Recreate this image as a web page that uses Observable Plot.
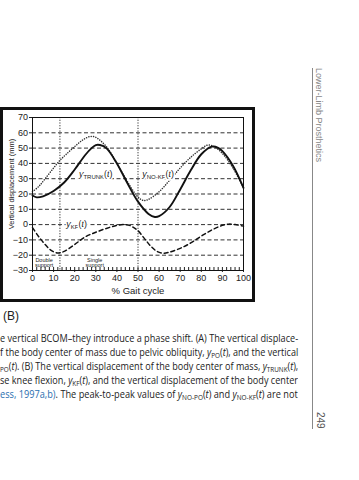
<!DOCTYPE html>
<html><head><meta charset="utf-8">
<script src="https://cdn.jsdelivr.net/npm/d3@7"></script>
<script src="https://cdn.jsdelivr.net/npm/@observablehq/plot@0.6"></script>
<style>
html,body{margin:0;padding:0;background:#fff;width:359px;height:480px;overflow:hidden;position:relative;font-family:"Liberation Sans",Arial,sans-serif;}
#chart{position:absolute;left:0;top:107px;}
#frame{position:absolute;left:0;top:107px;width:255px;height:195px;border:3px solid #111;box-sizing:border-box;pointer-events:none;}
#panel{position:absolute;left:3px;top:309px;font-size:12px;color:#222;}
.cap{position:absolute;left:0;white-space:nowrap;font-size:10px;line-height:14px;color:#222;transform-origin:0 50%;font-family:"Open Sans","Liberation Sans",sans-serif;}
.cap sub{font-size:7px;vertical-align:-2px;line-height:0;}
.blue{color:#2a6fb0;}
#vline{position:absolute;left:312px;top:68px;width:1px;height:361px;background:#888;}
#runhead{position:absolute;left:314px;top:68px;writing-mode:vertical-rl;font-size:9px;color:#888;white-space:nowrap;}
#folio{position:absolute;left:315px;top:412px;writing-mode:vertical-rl;font-size:10px;color:#555;}
</style></head>
<body>
<div id="chart"></div>
<div id="frame"></div>
<div id="panel">(B)</div>
<div class="cap" style="top:331px">e vertical BCOM–they introduce a phase shift. (A) The vertical displace-</div>
<div class="cap" style="top:345px">f the body center of mass due to pelvic obliquity, <i>y</i><sub>PO</sub>(<i>t</i>), and the vertical</div>
<div class="cap" style="top:359px"><sub>PO</sub>(<i>t</i>). (B) The vertical displacement of the body center of mass, <i>y</i><sub>TRUNK</sub>(<i>t</i>),</div>
<div class="cap" style="top:373px">se knee flexion, <i>y</i><sub>KF</sub>(<i>t</i>), and the vertical displacement of the body center</div>
<div class="cap" style="top:387px"><span class="blue">ess, 1997a,b)</span>. The peak-to-peak values of <i>y</i><sub>NO-PO</sub>(<i>t</i>) and <i>y</i><sub>NO-KF</sub>(<i>t</i>) are not</div>
<div id="vline"></div>
<div id="runhead">Lower-Limb Prosthetics</div>
<div id="folio">249</div>
<script>
// ---- data ----
const trunkX = [0,2,5,10,15,20,25,28,30,32,35,40,45,50,55,58,60,65,70,75,80,85,88,90,95,100];
const trunkY = [19,17.8,18.5,22,27.5,36,45.5,50,52,52,50,40,27,15,7,5,5.5,11.5,23,35.5,46,51,50.2,48,38.5,24];

const noKfX = [0,3,6,10,13,16,20,24,27.5,30,35,40,45,50,52.7,55,60,65,70,75,80,83,86,90,95,100];
const noKfY = [21.5,25,30,37,42,46,51,55.5,57.6,57,51,40,28,18,15.7,16.5,21.5,29,37,44,49.5,52,51,46.5,37,24];

const kfX = [0,3,6,9,12,15,20,25,30,35,40,43,46,48,50,53,56,59,62,65,70,75,80,85,90,93,96,100];
const kfY = [-2,-8,-13,-17,-18.5,-17.5,-13,-8,-5,-2.5,-0.5,0,-0.5,-2,-4,-9,-14,-17.5,-18.7,-18,-15.5,-12,-7.5,-3.5,-0.5,0.3,0,-1];

const xTicks = [0,10,20,30,40,50,60,70,80,90,100];
const xMinorTicks = d3.range(0, 101, 2);
const yTicks = [70,60,50,40,30,20,10,0,-10,-20,-30];
const gridY = [60,50,40,30,20,10,0,-10,-20];
const phaseX = [13,50];
const phaseLabels = ["Double\nsupport","Single\nsupport"];
const phaseLabelX = [5.5,29.5];
const curveLabels = ["y|TRUNK", "y|NO-KF", "y|KF"];
const curveLabelX = [22, 52, 16];
const curveLabelY = [33, 33, 0];
const xLabel = "% Gait cycle";
const yLabel = "Vertical displacement (mm)";

const trunk = trunkX.map((x,i)=>({x, y: trunkY[i]}));
const noKf = noKfX.map((x,i)=>({x, y: noKfY[i]}));
const kf = kfX.map((x,i)=>({x, y: kfY[i]}));
const labels = curveLabels.map((t,i)=>({t, x: curveLabelX[i], y: curveLabelY[i]}));
const phases = phaseLabels.map((t,i)=>({t, x: phaseLabelX[i]}));

const plot = Plot.plot({
  width: 255, height: 195,
  marginLeft: 32, marginRight: 12, marginTop: 10, marginBottom: 32,
  style: {fontFamily: "Liberation Sans, Arial, sans-serif", fontSize: "9px", color: "#222", background: "transparent"},
  x: {domain: [0,100]},
  y: {domain: [-30,70]},
  marks: [
    Plot.ruleY(gridY, {stroke: "#333", strokeWidth: 1, strokeDasharray: "4,2.5"}),
    Plot.ruleX(phaseX, {stroke: "#333", strokeWidth: 1, strokeDasharray: "1.2,1.5"}),
    Plot.line(noKf, {x: "x", y: "y", curve: "catmull-rom", stroke: "#333", strokeWidth: 1.5, strokeLinecap: "round", strokeDasharray: "0.1,2.3"}),
    Plot.line(kf, {x: "x", y: "y", curve: "catmull-rom", stroke: "#111", strokeWidth: 1.5, strokeDasharray: "4,3"}),
    Plot.line(trunk, {x: "x", y: "y", curve: "catmull-rom", stroke: "#111", strokeWidth: 1.9}),
    Plot.text(labels, {x: "x", y: "y", text: "t", textAnchor: "start", fontSize: 9, fill: "#222", stroke: "white", strokeWidth: 3}),
    Plot.text(phases, {x: "x", y: -25, text: "t", fontSize: 5.5, lineHeight: 1.0, fill: "#222"}),
    Plot.axisX({ticks: xMinorTicks, tickSize: -3, tickFormat: () => "", label: null}),
    Plot.axisX({ticks: xTicks, tickSize: 2, tickPadding: 2, label: null, fontSize: 9}),
    Plot.axisY({ticks: yTicks, tickSize: 3, tickPadding: 1.5, label: null, fontSize: 9, tickFormat: d => d < 0 ? "\u2212" + Math.abs(d) : d}),
    Plot.text([yLabel], {frameAnchor: "left", textAnchor: "middle", dx: -21, dy: -10, rotate: -90, fontSize: 7.5, fill: "#222"}),
    Plot.text([xLabel], {frameAnchor: "bottom", textAnchor: "middle", dy: 23, fontSize: 9.5, fill: "#222"}),
    Plot.frame({stroke: "#111", strokeWidth: 1})
  ]
});
document.getElementById("chart").appendChild(plot);

// subscripts in curve labels
d3.select(plot).selectAll("text").each(function() {
  const s = this.textContent;
  if (!s.includes("|")) return;
  const [main, sub] = s.split("|");
  const el = d3.select(this);
  el.text(null);
  el.append("tspan").attr("font-style", "italic").text(main);
  el.append("tspan").attr("font-size", 6).attr("dy", 2).text(sub);
  el.append("tspan").attr("dy", -2).text("(");
  el.append("tspan").attr("font-style", "italic").text("t");
  el.append("tspan").text(")");
});

// fit caption lines to the justified column width
document.querySelectorAll(".cap").forEach(el => {
  const w = el.scrollWidth;
  el.style.transform = `scaleX(${298 / w})`;
});
</script>
</body></html>
